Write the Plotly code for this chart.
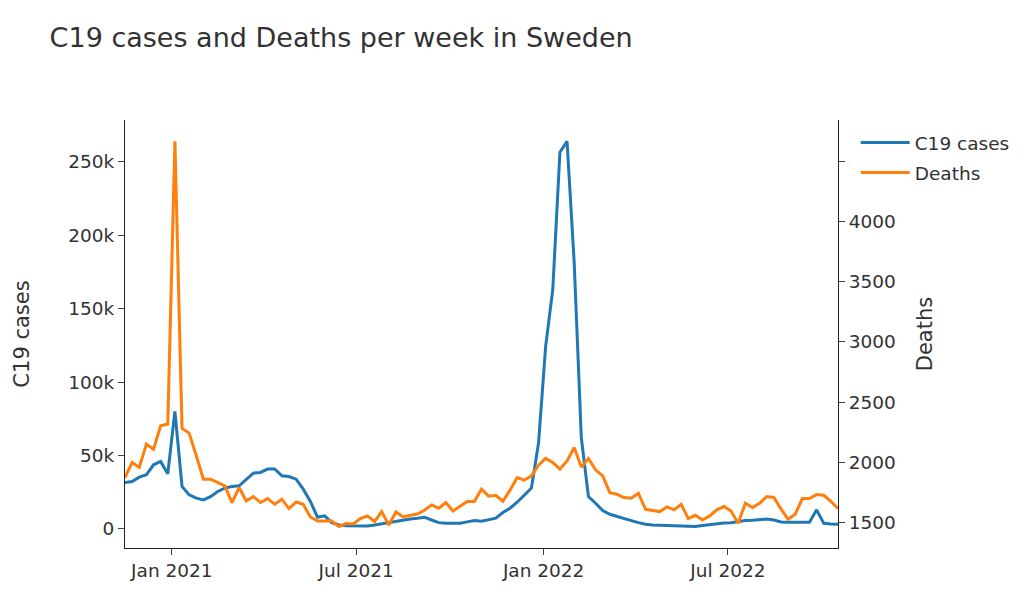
import pandas as pd
import plotly.graph_objects as go

start_date = "2020-11-16"
n_weeks = 101

cases = [31600, 32300, 35300, 36900, 43700, 46000, 37600, 80100, 28900, 23200,
         21000, 19800, 22000, 25500, 27800, 28900, 29400, 33500, 38000, 38500,
         40800, 40800, 36200, 35700, 33900, 27100, 18700, 8000, 8900, 4300,
         2700, 2200, 2000, 2000, 2000, 2700, 3600, 4600, 5500, 6100,
         6800, 7300, 8000, 6100, 4300, 3900, 3900, 3900, 4800, 5700,
         5200, 6100, 7300, 11200, 14100, 18200, 23200, 27800, 58500, 124500,
         163200, 256600, 263900, 181500, 62000, 22000, 17500, 12500, 10000, 8400,
         7000, 5700, 4300, 3200, 2700, 2500, 2300, 2000, 2000, 1800,
         1600, 2300, 3000, 3400, 4100, 4300, 5200, 5700, 5900, 6400,
         6800, 6100, 4800, 4600, 4600, 4600, 4600, 13000, 3900, 3400,
         3200]

deaths = [1872, 1997, 1956, 2150, 2108, 2303, 2317, 4669, 2281, 2242,
          2053, 1858, 1858, 1831, 1803, 1664, 1789, 1678, 1714, 1664,
          1697, 1650, 1692, 1614, 1669, 1650, 1544, 1511, 1511, 1511,
          1464, 1489, 1486, 1531, 1553, 1506, 1589, 1478, 1586, 1544,
          1558, 1569, 1600, 1644, 1617, 1664, 1594, 1636, 1672, 1672,
          1775, 1717, 1725, 1675, 1767, 1872, 1850, 1886, 1975, 2031,
          1997, 1942, 2011, 2122, 1960, 2031, 1936, 1886, 1747, 1733,
          1706, 1700, 1742, 1608, 1600, 1589, 1628, 1603, 1650, 1531,
          1558, 1519, 1553, 1603, 1631, 1594, 1492, 1658, 1622, 1658,
          1714, 1706, 1611, 1525, 1567, 1697, 1697, 1730, 1725, 1675,
          1614]

weeks = pd.date_range(start_date, periods=n_weeks, freq="7D")

font_family = "Verdana, DejaVu Sans, sans-serif"
txt = "rgb(50,50,50)"

fig = go.Figure()
fig.add_trace(go.Scatter(x=weeks, y=cases, name="C19 cases", mode="lines",
                         legendgroup="cases",
                         line=dict(color="#1f77b4", width=3)))
fig.add_trace(go.Scatter(x=weeks, y=deaths, name="Deaths", mode="lines",
                         legendgroup="deaths",
                         line=dict(color="#ff7f0e", width=3), yaxis="y2"))

fig.update_layout(
    template="simple_white",
    width=1015, height=591,
    margin=dict(l=117, r=185, t=112, b=51, autoexpand=False),
    font=dict(family=font_family, size=18, color=txt),
    title=dict(text="C19 cases and Deaths per week in Sweden", x=0.041, y=0.95,
               xanchor="left", yanchor="middle",
               font=dict(size=27, color=txt)),
    xaxis=dict(dtick="M6", tick0="2021-01-01", tickformat="%b %Y",
               tickfont=dict(size=18.5, color=txt), ticklen=6),
    yaxis=dict(title=dict(text="C19 cases", font=dict(size=21, color=txt), standoff=32),
               dtick=50000, tickfont=dict(size=18.5, color=txt), ticklen=6),
    yaxis2=dict(title=dict(text="Deaths", font=dict(size=21, color=txt), standoff=22),
                overlaying="y", side="right", dtick=500,
                tickfont=dict(size=18.5, color=txt), ticklen=6),
    legend=dict(font=dict(size=18.5, color=txt), itemwidth=49,
                x=1.015, y=0.9907, xanchor="left", yanchor="top",
                indentation=7, traceorder="grouped", tracegroupgap=3,
                bgcolor="white"),
)

fig.write_html("out.html")
